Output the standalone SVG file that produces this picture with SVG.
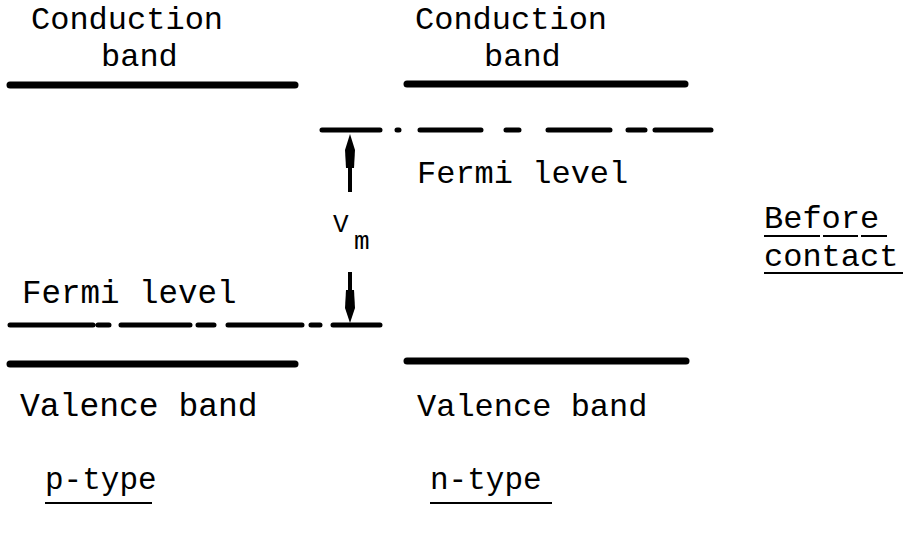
<svg xmlns="http://www.w3.org/2000/svg" width="913" height="536" viewBox="0 0 913 536">
<style>
text{font-family:"Liberation Mono","Courier New",monospace;font-size:32px;fill:#000}
.band{stroke:#000;stroke-width:7;stroke-linecap:round;fill:none}
.fermi{stroke:#000;stroke-width:5;stroke-linecap:round;fill:none}
.ul{stroke:#000;stroke-width:2;fill:none}
.stem{stroke:#000;stroke-width:4;fill:none}
</style>
<rect width="913" height="536" fill="#fff"/>
<g id="p-conduction">
<line class="band" x1="10" y1="85" x2="295" y2="85"/>
<text x="31" y="29">Conduction</text>
<text x="101" y="66">band</text>
</g>
<g id="n-conduction">
<line class="band" x1="407" y1="84" x2="685" y2="84"/>
<text x="415" y="29">Conduction</text>
<text x="484" y="66">band</text>
</g>
<g id="n-fermi">
<path class="fermi" d="M322 130H380M397 130H399M420 130H481M506 130H519M548 130H610M628 130H645M655 130H711"/>
<text x="417" y="183">Fermi level</text>
</g>
<g id="p-fermi">
<path class="fermi" d="M10 325H93M98 325H109M121 325H190M198 325H214M228 325H302M311 325H320M333 325H380"/>
<text x="22" y="303" style="font-size:32.5px">Fermi level</text>
</g>
<g id="p-valence">
<line class="band" x1="10" y1="364" x2="295" y2="364"/>
<text x="20" y="416" style="font-size:33px">Valence band</text>
</g>
<g id="n-valence">
<line class="band" x1="407" y1="361" x2="686" y2="361"/>
<text x="417" y="416">Valence band</text>
</g>
<g id="connectors">
<line class="stem" x1="350" y1="150" x2="350" y2="192"/>
<path d="M350 134 L355 150 L354 168 L346 168 L345 150 Z" fill="#000"/>
<line class="stem" x1="350" y1="272" x2="350" y2="300"/>
<path d="M350 323 L355 308 L354 290 L346 290 L345 308 Z" fill="#000"/>
</g>
<g id="vm">
<text x="333" y="232" style="font-size:26px">V</text>
<text x="354" y="249" style="font-size:26px">m</text>
</g>
<g id="before-contact">
<text x="764" y="228">Before</text>
<path class="ul" d="M764 236H820M823 236H858M861 236H887"/>
<text x="764" y="266">contact</text>
<line class="ul" x1="764" y1="273" x2="903" y2="273"/>
</g>
<g id="p-type">
<text x="45" y="489" style="font-size:31px">p-type</text>
<line class="ul" x1="45" y1="503" x2="152" y2="503"/>
</g>
<g id="n-type">
<text x="430" y="489" style="font-size:31px">n-type</text>
<line class="ul" x1="430" y1="503" x2="552" y2="503"/>
</g>
</svg>
